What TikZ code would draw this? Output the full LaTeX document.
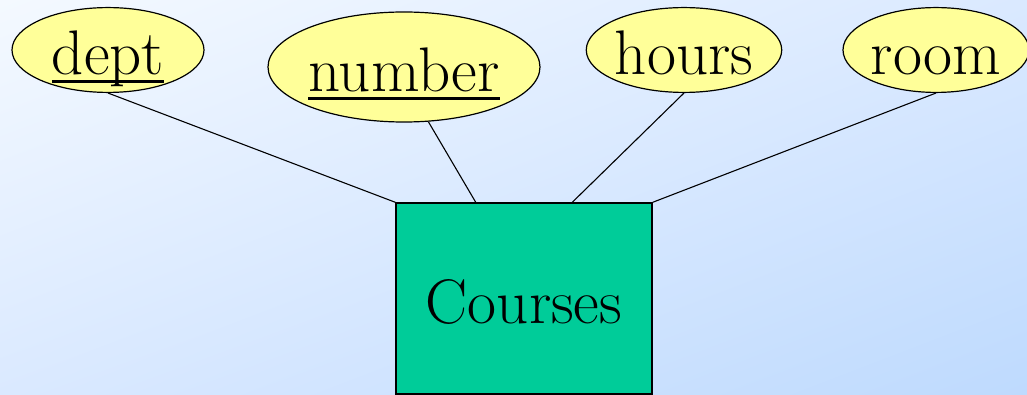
\documentclass[tikz,border=0pt]{standalone}
\usepackage{fontspec}
\usetikzlibrary{shapes.geometric,shadings,calc}
\definecolor{attrfill}{RGB}{255,255,153}
\definecolor{entfill}{RGB}{0,204,153}
\definecolor{bgtl}{RGB}{244,249,255}
\definecolor{bgmid}{RGB}{218,233,255}
\definecolor{bgbr}{RGB}{190,218,254}
% key attribute: text with a heavy rule just under the baseline
\newcommand{\keyul}[1]{\setbox0\hbox{#1}\rlap{\rule[-8.5pt]{\wd0}{3.5pt}}\box0}
\begin{document}
\begin{tikzpicture}[x=1pt, y=-1pt,
    attr/.style={ellipse, draw, line width=1.2pt, fill=attrfill, inner sep=0pt,
      text height=55pt, text depth=5pt, font=\fontsize{63}{70}\selectfont},
    entity/.style={rectangle, draw, line width=1.4pt, fill=entfill, inner sep=0pt,
      text height=55pt, text depth=5pt, font=\fontsize{63}{70}\selectfont},
    link/.style={line width=1.1pt}]
    % --- background: soft diagonal blue wash ---
    \shade[upper left=bgtl, upper right=bgmid, lower left=bgmid, lower right=bgbr]
      (0,0) rectangle (1027,395);
    \useasboundingbox (0,0) rectangle (1027,395);
    % --- attributes ---
    \node[attr, minimum width=192pt, minimum height=80pt] (dept) at (108,50) {\keyul{dept}};
    \node[attr, minimum width=272pt, minimum height=110pt] (number) at (404,67) {\keyul{number}};
    \node[attr, minimum width=192pt, minimum height=80pt] (hours) at (684,50) {hours};
    \node[attr, minimum width=186pt, minimum height=80pt] (room) at (936,50) {room};
    % --- entity set ---
    \node[entity, minimum width=256pt, minimum height=191pt] (courses) at (524,298.5) {Courses};
    % --- attribute links ---
    \draw[link] (dept.south) -- (courses.north west);
    \draw[link] (number.-66) -- ($(courses.north west)!0.3125!(courses.north east)$);
    \draw[link] (hours.south) -- ($(courses.north west)!0.6875!(courses.north east)$);
    \draw[link] (room.south) -- (courses.north east);
\end{tikzpicture}
\end{document}
